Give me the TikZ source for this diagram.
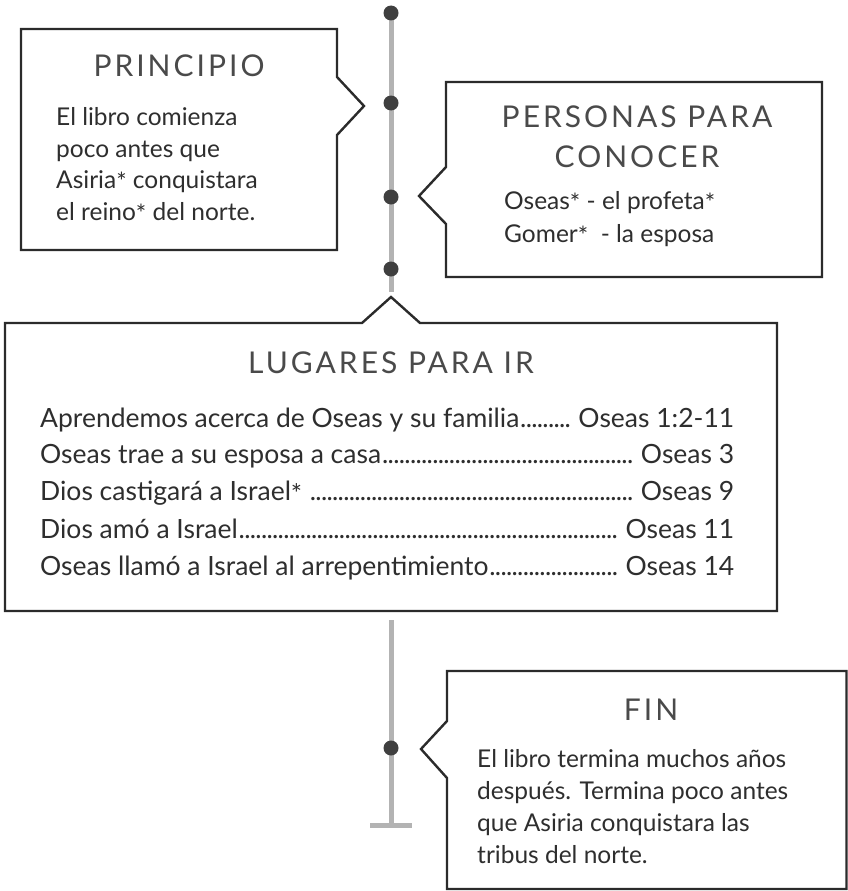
\documentclass[tikz,border=0pt]{standalone}
\usepackage{fontspec}
\setmainfont{Lato}
\newfontfamily\ttlfont[LetterSpace=10]{Lato}
\definecolor{boxline}{HTML}{2B2B2B}
\definecolor{ttlcol}{HTML}{4A4A4A}
\definecolor{bodycol}{HTML}{2E2E2E}
\definecolor{tlgray}{HTML}{B3B3B3}
\definecolor{dotcol}{HTML}{3F3F3F}
\newcommand\ldr{\cleaders\hbox to 0.21em{\hss.\hss}\hfill}
\newcommand\row[2]{\hbox to 694pt{#1\ldr\ #2}}
\newcommand\stx{\raisebox{-0.12em}{*}}
\tikzset{
  bubble/.style={draw=boxline, line width=2.4pt, line join=miter, fill=white},
  ttl/.style={anchor=base, inner sep=0, text=ttlcol, font=\ttlfont\fontsize{30}{36}\selectfont},
  bodyline/.style={anchor=base west, inner sep=0, text=bodycol, font=\fontsize{24.5}{31}\selectfont},
  rowline/.style={anchor=base west, inner sep=0, text=bodycol, font=\fontsize{26.5}{33}\selectfont},
  tl/.style={draw=tlgray, line width=5pt},
  tldot/.style={circle, fill=dotcol, inner sep=0, minimum size=15pt},
}
\begin{document}
\begin{tikzpicture}[x=1pt,y=-1pt]
\useasboundingbox (0,0) rectangle (848,891);
% timeline
\coordinate (t0) at (391,13);
\coordinate (t4) at (391,292);
\coordinate (s0) at (391,620);
\coordinate (s1) at (391,825);
\coordinate (bl) at (370,825);
\coordinate (br) at (412,825);
\draw[tl] (t0) -- (t4);
\draw[tl] (s0) -- (s1);
\draw[tl] (bl) -- (br);
\node[tldot] (d0) at (391,13) {};
\node[tldot] (d1) at (391,103) {};
\node[tldot] (d2) at (391,197) {};
\node[tldot] (d3) at (391,269) {};
\node[tldot] (d4) at (391,748) {};
% PRINCIPIO
\draw[bubble] (21,29) -- (337,29) -- (337,77) -- (364,106) -- (337,135) -- (337,250) -- (21,250) -- cycle;
\node[ttl] (pt) at (179,77) {PRINCIPIO};
\node[bodyline] (p1) at (56,125) {El libro comienza};
\node[bodyline] (p2) at (56,157) {poco antes que};
\node[bodyline] (p3) at (56,188) {Asiria\stx{} conquistara};
\node[bodyline] (p4) at (56,220) {el reino\stx{} del norte.};
% PERSONAS
\draw[bubble] (446,82) -- (822,82) -- (822,277) -- (446,277) -- (446,224) -- (419,196) -- (446,167) -- cycle;
\node[ttl] (ct1) at (637,127) {PERSONAS PARA};
\node[ttl] (ct2) at (637,167) {CONOCER};
\node[bodyline] (c1) at (504,209) {Oseas\stx{} - el profeta\stx};
\node[bodyline] (c2) at (504,242) {Gomer\stx\ \ - la esposa};
% LUGARES
\draw[bubble] (5,323) -- (362,323) -- (391,297) -- (420,323) -- (777,323) -- (777,611) -- (5,611) -- cycle;
\node[ttl] (lt) at (391,373) {LUGARES PARA IR};
\node[rowline] (l1) at (40,427) {\row{Aprendemos acerca de Oseas y su familia}{Oseas 1:2-11}};
\node[rowline] (l2) at (40,463) {\row{Oseas trae a su esposa a casa}{Oseas 3}};
\node[rowline] (l3) at (40,500) {\row{Dios castigará a Israel\stx{} }{Oseas 9}};
\node[rowline] (l4) at (40,538) {\row{Dios amó a Israel}{Oseas 11}};
\node[rowline] (l5) at (40,575) {\row{Oseas llamó a Israel al arrepentimiento}{Oseas 14}};
% FIN
\draw[bubble] (447,671) -- (846.5,671) -- (846.5,889) -- (447,889) -- (447,778) -- (421,749) -- (447,721) -- cycle;
\node[ttl] (ft) at (651,720) {FIN};
\node[bodyline] (f1) at (477,767) {El libro termina muchos años};
\node[bodyline] (f2) at (477,799) {después. Termina poco antes};
\node[bodyline] (f3) at (477,831) {que Asiria conquistara las};
\node[bodyline] (f4) at (477,863) {tribus del norte.};
\end{tikzpicture}
\end{document}
